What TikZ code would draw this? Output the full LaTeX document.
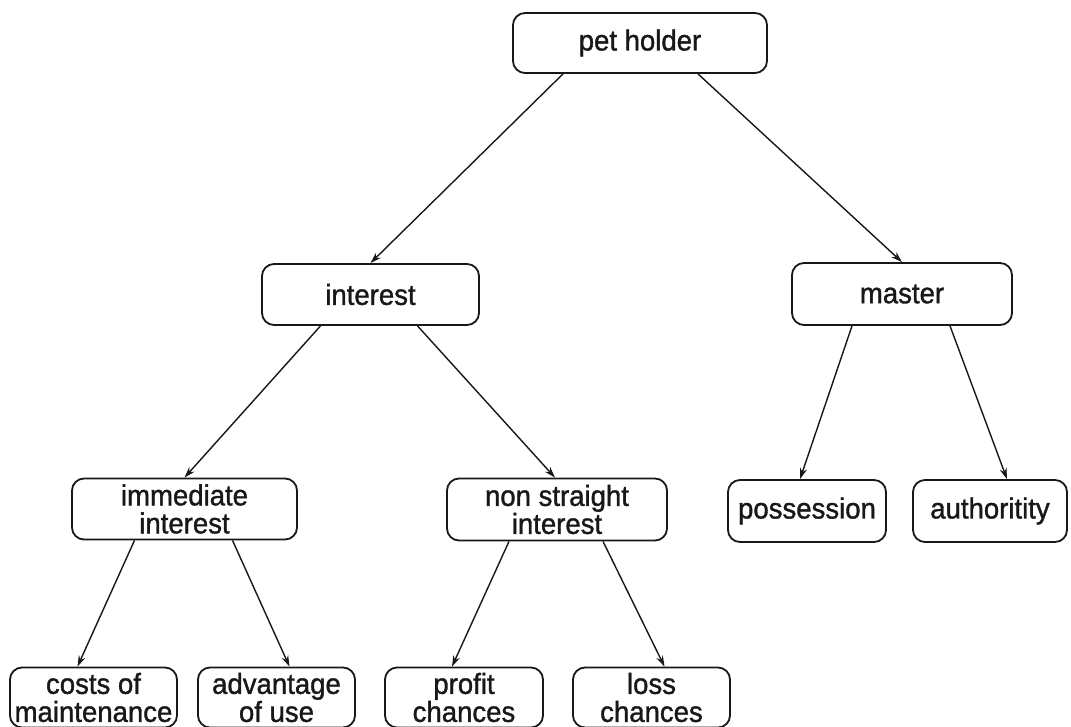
\documentclass[tikz,border=0pt]{standalone}
\usepackage{fontspec}
\setmainfont{Liberation Sans}[FakeBold=1.2, FakeStretch=0.95]
\usetikzlibrary{arrows.meta}
\definecolor{ink}{RGB}{24,24,24}
\tikzset{
  box/.style={draw=ink, line width=1.8pt, rounded corners=12pt, fill=white,
    text=ink, align=center, inner sep=0pt,
    font=\fontsize{29}{28}\selectfont},
  conn/.style={draw=ink, line width=1.4pt, -{Stealth[length=11pt,width=7pt]}}
}
\begin{document}
\begin{tikzpicture}[x=1pt,y=-1pt]
\useasboundingbox[fill=white] (0,0) rectangle (1071,727);
% level 0
\node[box, minimum width=254pt, minimum height=60pt] (ph) at (640,43) {pet holder};
% level 1
\node[box, minimum width=217pt, minimum height=61pt] (int) at (370.5,294.5) {interest};
\node[box, minimum width=220pt, minimum height=62pt] (mas) at (902,294) {master};
% level 2
\node[box, minimum width=225pt, minimum height=61pt] (imm) at (184.5,509) {immediate\\interest};
\node[box, minimum width=220pt, minimum height=62pt] (nsi) at (557,509.5) {non straight\\interest};
\node[box, minimum width=158pt, minimum height=62pt] (pos) at (807,511) {possession};
\node[box, minimum width=154pt, minimum height=62pt] (aut) at (990,511) {authoritity};
% level 3
\node[box, minimum width=167pt, minimum height=60pt] (cost) at (93.5,697.5) {costs of\\maintenance};
\node[box, minimum width=157pt, minimum height=60pt] (adv) at (276.5,697.5) {advantage\\of use};
\node[box, minimum width=158pt, minimum height=60pt] (pro) at (464,697.5) {profit\\chances};
\node[box, minimum width=157pt, minimum height=60pt] (los) at (651.5,697.5) {loss\\chances};
% connectors
\draw[conn] ([xshift=-77pt]ph.south) -- (int.north);
\draw[conn] ([xshift=58pt]ph.south) -- (mas.north);
\draw[conn] ([xshift=-50pt]int.south) -- (imm.north);
\draw[conn] ([xshift=47pt]int.south) -- ([xshift=-2pt]nsi.north);
\draw[conn] ([xshift=-50pt]mas.south) -- ([xshift=-7pt]pos.north);
\draw[conn] ([xshift=48pt]mas.south) -- ([xshift=17pt]aut.north);
\draw[conn] ([xshift=-50pt]imm.south) -- ([xshift=-16pt]cost.north);
\draw[conn] ([xshift=48pt]imm.south) -- ([xshift=13pt]adv.north);
\draw[conn] ([xshift=-48pt]nsi.south) -- ([xshift=-12pt]pro.north);
\draw[conn] ([xshift=46pt]nsi.south) -- ([xshift=13pt]los.north);
\end{tikzpicture}
\end{document}
